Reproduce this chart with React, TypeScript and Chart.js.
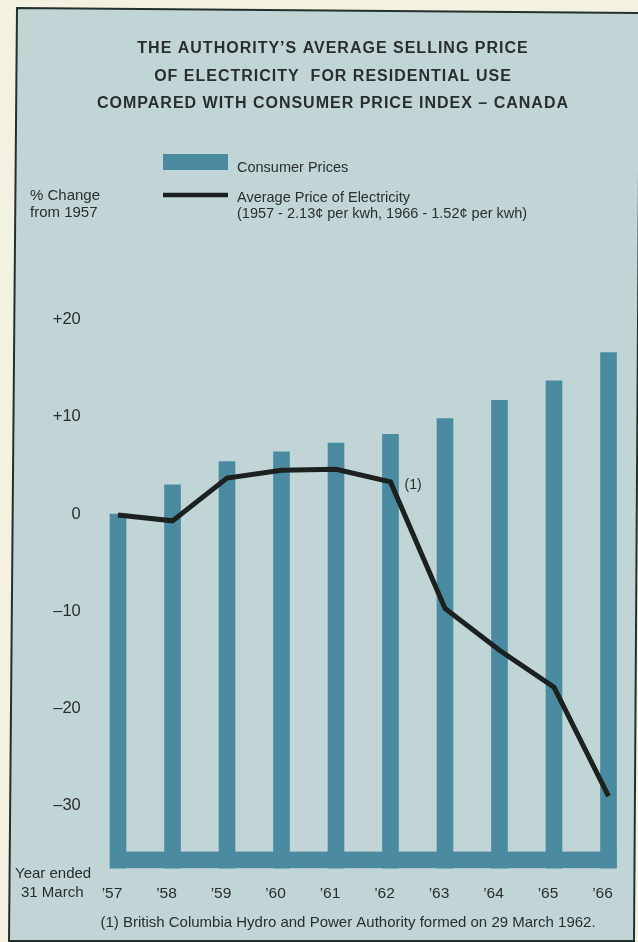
import { useEffect, useRef } from "react";
import { Chart, registerables } from "chart.js";

Chart.register(...registerables);

const YEARS = ["’57", "’58", "’59", "’60", "’61", "’62", "’63", "’64", "’65", "’66"];
const CONSUMER_PRICES = [0, 3.0, 5.4, 6.4, 7.3, 8.2, 9.8, 11.7, 13.7, 16.6];
const ELECTRICITY_PRICE = [-0.1, -0.7, 3.7, 4.5, 4.6, 3.3, -9.7, -14.0, -17.8, -29.0];
const Y_TICKS = [20, 10, 0, -10, -20, -30];
const BAR_BASE = -36.4;
const BAND_TOP = -34.7;
const Y_MIN = -37;
const Y_MAX = 22;

const TITLE_LINES = [
  "THE AUTHORITY’S AVERAGE SELLING PRICE",
  "OF ELECTRICITY  FOR RESIDENTIAL USE",
  "COMPARED WITH CONSUMER PRICE INDEX – CANADA",
];
const LEGEND_BARS = "Consumer Prices";
const LEGEND_LINE = ["Average Price of Electricity", "(1957 - 2.13¢ per kwh, 1966 - 1.52¢ per kwh)"];
const Y_TITLE = ["% Change", "from 1957"];
const X_TITLE = ["Year ended", "31 March"];
const NOTE_MARK = "(1)";
const FOOTNOTE = "(1) British Columbia Hydro and Power Authority formed on 29 March 1962.";

const W = 638;
const H = 942;
const CREAM = "#f3f1df";
const PANEL = "#c2d5d6";
const BORDER = "#24302c";
const BAR_COLOR = "#4a8ba2";
const LINE_COLOR = "#1c2120";
const TEXT = "#2a2e2f";
const FONT = "'Liberation Sans', Arial, sans-serif";
const BAR_W = 16;

const decor = {
  id: "decor",
  beforeDraw(chart: any) {
    const { ctx } = chart;
    ctx.save();
    ctx.fillStyle = CREAM;
    ctx.fillRect(0, 0, W, H);
    // slightly skewed panel, as in the scanned page
    ctx.beginPath();
    ctx.moveTo(17, 8);
    ctx.lineTo(640, 13);
    ctx.lineTo(634, 941);
    ctx.lineTo(9, 941);
    ctx.closePath();
    ctx.fillStyle = PANEL;
    ctx.fill();
    ctx.strokeStyle = BORDER;
    ctx.lineWidth = 2;
    ctx.stroke();
    // base band under the bars
    const xs = chart.scales.x;
    const ys = chart.scales.y;
    const left = xs.getPixelForValue(0) - BAR_W / 2;
    const right = xs.getPixelForValue(YEARS.length - 1) + BAR_W / 2;
    const top = ys.getPixelForValue(BAND_TOP);
    const bottom = ys.getPixelForValue(BAR_BASE);
    ctx.fillStyle = BAR_COLOR;
    ctx.fillRect(left, top, right - left, bottom - top);
    ctx.restore();
  },
  afterDraw(chart: any) {
    const { ctx } = chart;
    const xs = chart.scales.x;
    const ys = chart.scales.y;
    ctx.save();
    ctx.fillStyle = TEXT;
    ctx.textBaseline = "middle";
    // title
    ctx.font = `bold 16px ${FONT}`;
    (ctx as any).letterSpacing = "1px";
    ctx.textAlign = "center";
    const titleY = [49, 76.5, 104];
    TITLE_LINES.forEach((t, i) => ctx.fillText(t, 333, titleY[i]));
    (ctx as any).letterSpacing = "0px";

    // legend
    ctx.fillStyle = BAR_COLOR;
    ctx.fillRect(163, 154, 65, 16);
    ctx.strokeStyle = LINE_COLOR;
    ctx.lineWidth = 4.5;
    ctx.beginPath();
    ctx.moveTo(163, 195);
    ctx.lineTo(228, 195);
    ctx.stroke();

    ctx.fillStyle = TEXT;
    ctx.textAlign = "left";
    ctx.font = `14.5px ${FONT}`;
    ctx.fillText(LEGEND_BARS, 237, 168);
    ctx.fillText(LEGEND_LINE[0], 237, 198);
    ctx.fillText(LEGEND_LINE[1], 237, 214);

    // y title
    ctx.font = `15px ${FONT}`;
    ctx.fillText(Y_TITLE[0], 30, 196);
    ctx.fillText(Y_TITLE[1], 30, 213);

    // x title
    ctx.fillText(X_TITLE[0], 15, 874);
    ctx.fillText(X_TITLE[1], 21, 893);

    // note mark next to 1962 point
    ctx.font = `14px ${FONT}`;
    ctx.fillText(NOTE_MARK, xs.getPixelForValue(5) + 14, ys.getPixelForValue(ELECTRICITY_PRICE[5]) + 3);

    // footnote
    ctx.font = `15px ${FONT}`;
    ctx.textAlign = "center";
    ctx.fillText(FOOTNOTE, 348, 923);
    ctx.restore();
  },
};

function fmtTick(v: number) {
  if (v > 0) return "+" + v;
  if (v < 0) return "\u2013" + Math.abs(v);
  return "0";
}

export default function App() {
  const ref = useRef<HTMLCanvasElement | null>(null);
  useEffect(() => {
    if (!ref.current) return;
    const chart = new Chart(ref.current, {
      data: {
        labels: YEARS,
        datasets: [
          {
            type: "line",
            label: "Average Price of Electricity",
            data: ELECTRICITY_PRICE,
            borderColor: LINE_COLOR,
            borderWidth: 5,
            pointRadius: 0,
            tension: 0,
            order: 0,
          } as any,
          {
            type: "bar",
            label: "Consumer Prices",
            data: CONSUMER_PRICES.map((v) => [BAR_BASE, v]),
            backgroundColor: BAR_COLOR,
            barThickness: BAR_W,
            borderWidth: 0,
            borderSkipped: false,
            order: 1,
          } as any,
        ],
      },
      options: {
        responsive: false,
        animation: false,
        events: [],
        layout: {
          autoPadding: false,
          padding: { top: 300, bottom: 28, left: 10.75, right: 2.25 },
        } as any,
        plugins: {
          legend: { display: false },
          tooltip: { enabled: false },
        },
        scales: {
          x: {
            type: "category",
            offset: true,
            grid: { display: false, drawTicks: false },
            border: { display: false },
            ticks: {
              color: TEXT,
              font: { family: FONT, size: 15.5 },
              padding: 10,
              labelOffset: -6,
              maxRotation: 0,
              autoSkip: false,
            },
            afterFit: (s: any) => {
              s.height = 40;
            },
          },
          y: {
            type: "linear",
            min: Y_MIN,
            max: Y_MAX,
            grid: { display: false, drawTicks: false },
            border: { display: false },
            ticks: {
              color: TEXT,
              font: { family: FONT, size: 16.5 },
              padding: 10,
              callback: (v: any) => fmtTick(Number(v)),
            },
            afterBuildTicks: (s: any) => {
              s.ticks = Y_TICKS.map((v) => ({ value: v }));
            },
            afterFit: (s: any) => {
              s.width = 80;
            },
          },
        },
      } as any,
      plugins: [decor],
    });
    return () => chart.destroy();
  }, []);
  return (
    <div style={{ position: "absolute", left: 0, top: 0, width: W, height: H }}>
      <canvas ref={ref} width={W} height={H} />
    </div>
  );
}
